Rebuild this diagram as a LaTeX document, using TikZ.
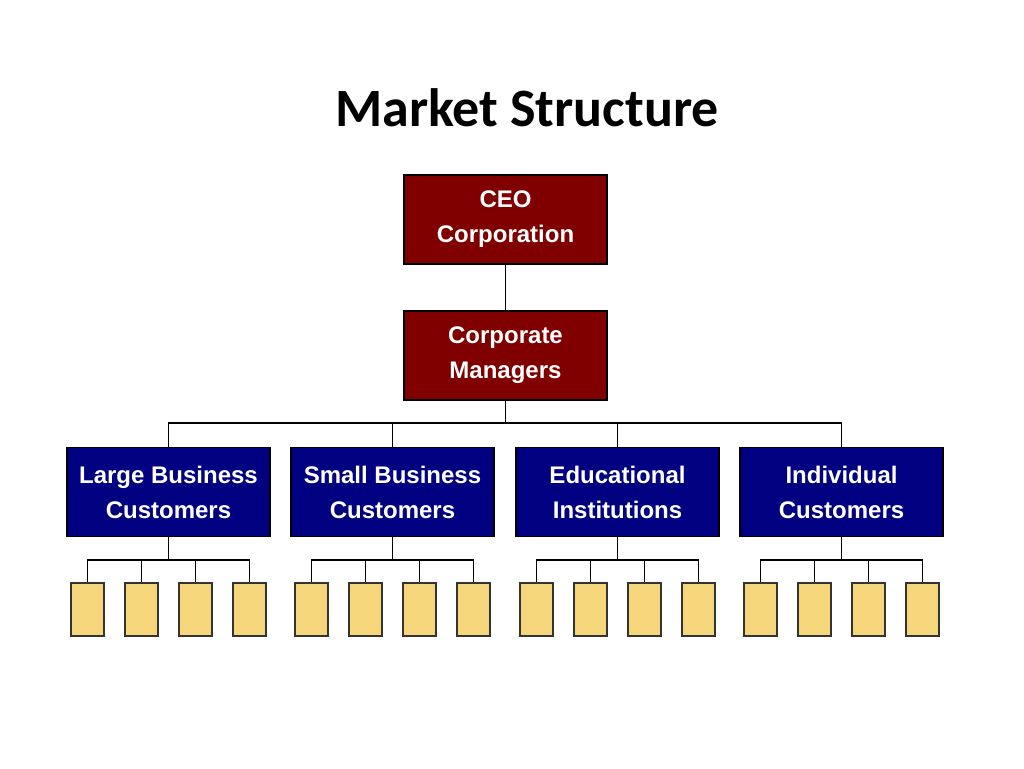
\documentclass[tikz,border=0pt]{standalone}
\usepackage{fontspec}
\setmainfont{Liberation Sans}
\newfontfamily\titlefont{Carlito}
\definecolor{boxred}{HTML}{800000}
\definecolor{boxblue}{HTML}{000080}
\definecolor{leaf}{HTML}{F5D67A}
\begin{document}
\begin{tikzpicture}[x=1pt,y=-1pt,
 big/.style={draw=black,line width=1.5pt,minimum width=203pt,minimum height=89pt,text=white,font=\bfseries\fontsize{24}{35}\selectfont,align=center,inner sep=0pt},
 leafbox/.style={draw=black!80,line width=1.3pt,fill=leaf,minimum width=33pt,minimum height=53pt,inner sep=0pt},
 wire/.style={line width=1.5pt}]
\useasboundingbox (0,0) rectangle (1024,768);
\node[font=\titlefont\bfseries\fontsize{54}{64}\selectfont] (title) at (527,108) {Market Structure};
\node[big,fill=boxred] (ceo) at (505.5,219.5) {CEO\\Corporation};
\node[big,fill=boxred] (mgr) at (505.5,355.5) {Corporate\\Managers};
\draw[wire] (ceo.south) -- (mgr.north);
\coordinate (hub) at (505.5,423);
\draw[wire] (mgr.south) -- (hub);
\foreach \i/\cx/\t in {1/168.5/{Large Business\\Customers},2/392.5/{Small Business\\Customers},3/617.5/{Educational\\Institutions},4/841.5/{Individual\\Customers}}{
 \node[big,fill=boxblue] (c\i) at (\cx,492) {\t};
 \coordinate (t\i) at (\cx,423);
 \draw[wire] (t\i) -- (c\i.north);
 \coordinate (b\i) at (\cx,560);
 \draw[wire] (c\i.south) -- (b\i);
 \foreach \j in {1,...,4}{
  \node[leafbox] (l\i\j) at ({\cx-81+54*(\j-1)},609.5) {};
  \coordinate (u\i\j) at ({\cx-81+54*(\j-1)},560);
  \draw[wire] (u\i\j) -- (l\i\j.north);
 }
 \draw[wire,line cap=rect] (u\i1) -- (u\i4);
}
\draw[wire,line cap=rect] (t1) -- (t4);
\end{tikzpicture}
\end{document}
